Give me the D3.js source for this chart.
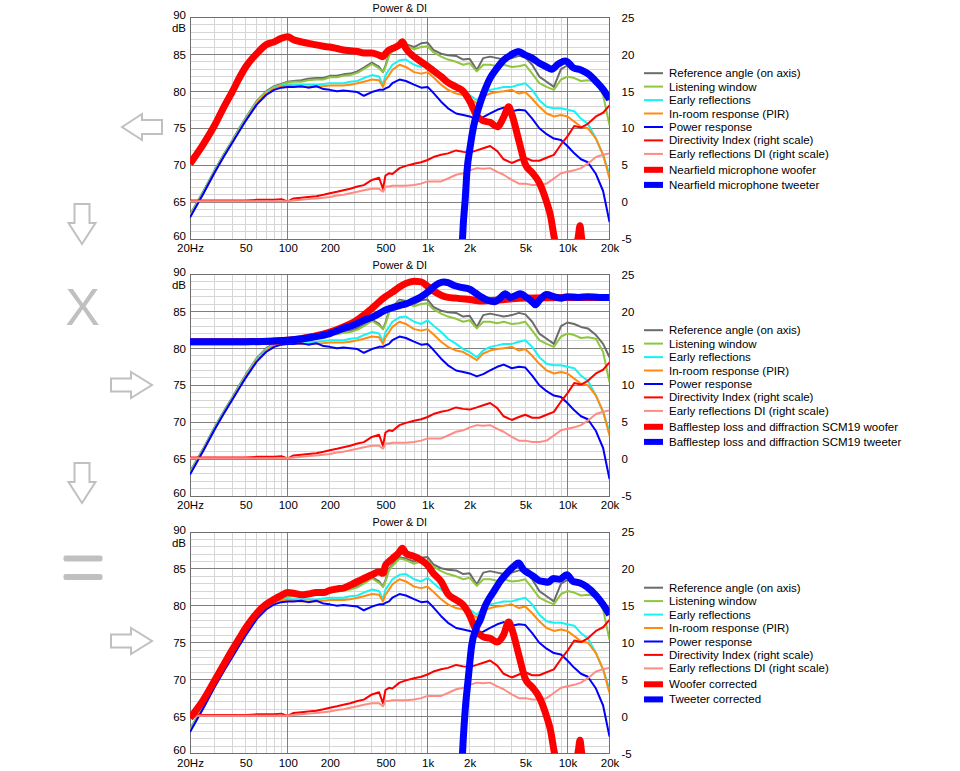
<!DOCTYPE html>
<html><head><meta charset="utf-8">
<script src="https://cdn.jsdelivr.net/npm/d3@7"></script>
<style>
body{margin:0;background:#fff}
svg{display:block}
text{font-family:"Liberation Sans",Arial,sans-serif;fill:#000}
</style>
</head><body>
<svg id="c" width="960" height="771"></svg>
<script>
// ---------- shared frequency grid & spinorama curves ----------
const freqs = [20,25,30,35,40,45,50,60,70,80,90,100,110,125,140,160,180,200,225,250,280,315,350,400,450,480,500,530,560,630,700,800,900,1000,1100,1250,1400,1600,1800,2000,2250,2500,2800,3150,3500,4000,4500,5000,5600,6300,7100,8000,9000,10000,11200,12500,14000,16000,18000,20000];
const refAxis = [63.3,66.5,69.3,71.5,73.3,75.0,76.4,78.7,80.0,80.7,81.0,81.3,81.4,81.5,81.7,81.8,81.8,82.1,82.1,82.3,82.4,82.7,83.2,83.9,83.3,82.6,83.5,85.0,85.6,86.6,86.4,86.0,86.5,86.6,85.6,85.1,84.9,84.8,84.3,84.4,82.9,84.5,84.7,84.5,84.3,84.5,84.8,84.6,83.6,82.0,81.3,80.6,83.0,83.5,83.3,82.9,82.7,81.8,80.6,78.8];
const listeningWindow = [63.2,66.4,69.2,71.4,73.2,74.9,76.3,78.6,79.9,80.6,80.9,81.2,81.3,81.3,81.5,81.6,81.6,81.9,81.9,82.1,82.2,82.5,83.0,83.7,83.1,82.6,83.3,84.8,85.4,86.4,86.2,85.7,86.0,86.1,85.3,84.7,84.3,84.0,83.6,83.8,82.7,83.6,83.6,83.4,83.6,83.3,83.4,83.6,82.4,81.1,80.6,80.2,81.6,82.0,81.8,81.4,81.5,81.3,79.5,75.4];
const earlyReflections = [63.1,66.3,69.1,71.3,73.1,74.8,76.2,78.5,79.8,80.5,80.8,80.9,80.9,80.9,80.9,80.85,81.0,81.1,81.1,81.1,81.3,81.4,81.8,82.2,82.0,80.9,82.2,82.9,83.6,84.2,84.3,83.6,83.3,83.8,83.1,82.2,81.3,80.6,79.9,79.5,78.8,79.7,80.2,80.4,80.6,80.6,80.9,81.1,80.2,78.8,77.9,77.7,77.7,77.5,77.3,76.3,75.6,73.6,71.4,68.7];
const inRoom = [63.0,66.2,69.0,71.2,73.0,74.7,76.1,78.4,79.7,80.4,80.7,80.8,80.7,80.6,80.6,80.6,80.7,80.8,80.8,80.8,80.9,81.1,81.3,81.6,81.5,80.6,81.5,82.2,82.9,83.6,83.3,82.6,82.4,82.6,81.9,80.9,80.2,79.7,79.5,79.0,78.4,79.3,79.7,79.9,80.0,80.2,79.7,79.9,79.0,77.9,77.0,76.6,76.8,76.6,75.9,75.2,75.0,73.6,71.4,68.2];
const powerResponse = [62.9,66.2,69.0,71.2,73.0,74.6,76.0,78.2,79.5,80.2,80.5,80.6,80.6,80.7,80.5,80.7,80.3,80.2,80.0,80.1,80.0,79.9,79.4,79.9,80.2,80.2,80.4,80.6,81.1,81.6,81.4,80.9,80.5,80.6,79.8,78.6,77.7,77.0,76.8,76.6,76.2,76.5,77.0,77.5,77.8,77.3,77.5,77.4,76.3,75.0,74.2,73.6,73.4,72.6,71.6,70.8,70.4,68.8,66.5,62.3];
const directivityIndex = [0.2,0.2,0.2,0.2,0.2,0.2,0.2,0.3,0.3,0.3,0.4,0.1,0.5,0.6,0.7,0.8,1.0,1.2,1.4,1.6,1.8,2.1,2.3,3.0,3.3,1.8,3.6,3.9,3.8,4.6,4.9,5.2,5.4,5.7,6.1,6.4,6.6,7.0,6.8,6.7,7.0,7.3,7.6,6.9,5.8,5.3,5.7,6.0,5.6,5.6,6.0,6.4,7.8,8.9,10.3,10.1,10.6,11.6,12.1,13.1];
const earlyReflDI = [0.1,0.1,0.1,0.1,0.1,0.1,0.1,0.1,0.1,0.1,0.1,0.1,0.2,0.3,0.4,0.5,0.6,0.7,0.9,1.0,1.2,1.4,1.6,1.8,1.8,1.4,2.1,2.1,2.2,2.2,2.2,2.3,2.5,2.8,2.8,2.8,3.2,3.7,3.9,4.3,4.6,4.5,4.6,4.1,3.7,3.0,2.5,2.5,2.3,2.3,2.5,3.2,3.9,4.1,4.3,4.6,5.2,6.1,6.4,6.6];

// ---------- panel 1: nearfield measurements ----------
const nfWooferF = [20,25,30,35,40,45,50,60,70,80,90,100,110,125,140,160,180,200,225,250,280,315,350,400,450,480,500,530,560,630,660,700,800,900,1000,1100,1250,1400,1600,1800,2000,2250,2500,2800,3150,3500,3800,4000,4500,5000,5600,6300,7100,7600,8000,8400];
const nfWooferDb = [70.2,72.9,75.4,77.9,79.9,81.8,83.3,85.1,86.3,86.7,87.2,87.4,87.0,86.7,86.5,86.3,86.1,86.0,85.8,85.6,85.5,85.4,85.2,85.2,84.9,84.7,85.1,85.6,85.8,86.3,86.7,85.8,84.7,84.0,83.4,82.8,82.0,81.2,80.6,80.0,78.7,76.7,76.0,75.8,75.2,76.5,77.9,76.9,73.3,70.1,69.0,67.6,65.0,63.0,60.5,58.5];
const wooferSpikeF = [11500,12000,12300,12600,13000];
const wooferSpikeDb = [58.5,60.5,61.8,60.3,58.5];
const nfTweeterF = [1760,1800,1860,1910,2017,2131,2313,2511,2803,3127,3489,4000,4465,5010,5586,6307,7109,7715,8611,9612,10000,11000,12500,14000,16100,18100,20000];
const nfTweeterDb = [58.5,62,65.5,69,72.5,75.2,77.7,79.7,81.8,83.1,84.2,85.0,85.4,84.9,84.5,83.8,83.3,83.0,83.7,84.1,84.0,83.2,82.9,82.4,81.3,80.2,78.9];

// ---------- panel 2: baffle step ----------
const bsWooferF = [20,50,100,125,150,200,250,300,350,400,450,500,560,630,700,800,900,1000,1100,1250,1400,1600,2000,2500,3000,4000,5000,10000,20000];
const bsWooferDb = [80.9,80.9,81.1,81.3,81.6,82.2,82.9,83.6,84.5,85.4,86.3,87.0,87.6,88.3,88.8,89.1,89.0,88.4,87.8,87.2,86.9,86.8,86.6,86.4,86.5,86.7,86.8,86.9,86.9];
const bsTweeterF = [20,50,100,150,200,250,300,350,400,450,500,560,630,700,800,900,1000,1100,1200,1300,1400,1550,1700,2000,2200,2450,2700,3000,3300,3600,3900,4300,4600,5100,5600,5900,6300,7100,8000,9000,10000,12000,14000,17000,20000];
const bsTweeterDb = [80.9,80.9,81.1,81.5,82.0,82.7,83.2,83.8,84.2,84.7,85.2,85.5,85.8,86.0,86.5,87.0,87.6,88.3,88.8,89.0,88.9,88.5,88.3,88.0,87.5,86.9,86.5,86.3,86.8,87.4,86.9,87.2,87.4,86.9,86.3,85.9,86.5,87.3,87.0,86.8,87.0,86.9,87.0,86.9,86.9];

// ---------- panel 3: corrected ----------
const corrWooferF = nfWooferF;
const corrWooferDb = [64.8,67.3,69.9,72.1,74.0,75.6,77.0,79.0,80.2,80.9,81.4,81.8,81.7,81.5,81.6,81.8,81.8,82.1,82.3,82.4,82.8,83.3,83.7,84.2,84.6,84.4,85.5,86.0,86.4,87.3,87.8,87.1,86.7,86.2,85.5,84.4,83.3,81.6,80.8,80.1,78.7,76.5,75.8,75.6,75.1,76.1,77.8,76.9,73.3,70.1,69.0,67.6,65.0,63.0,60.5,58.5];
const corrTweeterF = [1760,1800,1860,1950,2070,2230,2380,2570,2800,2940,3300,3690,4110,4470,4850,5300,5720,6300,6730,7300,7930,8800,9900,11000,12300,13700,16200,18100,20000];
const corrTweeterDb = [58.5,62,66,70,74.7,77.0,78.1,79.9,81.2,81.8,83.3,84.4,85.3,85.8,84.9,84.4,84.0,83.4,83.3,83.2,83.7,83.6,84.2,83.3,83.1,82.6,81.3,80.1,78.8];

// ---------- axes & legend text ----------
const xTickValues = [20,50,100,200,500,1000,2000,5000,10000,20000];
const xTickLabels = ["20Hz","50","100","200","500","1k","2k","5k","10k","20k"];
const leftTicks = [60,65,70,75,80,85,90];
const rightTicks = [-5,0,5,10,15,20,25];
const baseLegend = ["Reference angle (on axis)","Listening window","Early reflections","In-room response (PIR)","Power response","Directivity Index (right scale)","Early reflections DI (right scale)"];
const panelTitles = ["Power & DI","Power & DI","Power & DI"];
const thickLegends = [
  ["Nearfield microphone woofer","Nearfield microphone tweeter"],
  ["Bafflestep loss and diffraction SCM19 woofer","Bafflestep loss and diffraction SCM19 tweeter"],
  ["Woofer corrected","Tweeter corrected"]
];

// ---------- styling ----------
const baseColors = ["#6b6b6b","#8ec63f","#19f2f2","#ff8c10","#0000ff","#ff0000","#ff8c84"];
const thickColors = ["#ff0000","#0000ff"];
const GRAY = "#c0c0c0";

const svg = d3.select("#c");
const X0 = 190, X1 = 609.5, H = 221.5;
const x = d3.scaleLog().domain([20,20000]).range([X0,X1]);
const panelTops = [17.5, 274.5, 532];

const baseSeries = [
  {v:refAxis, right:false},{v:listeningWindow, right:false},{v:earlyReflections, right:false},
  {v:inRoom, right:false},{v:powerResponse, right:false},{v:directivityIndex, right:true},{v:earlyReflDI, right:true}
];
const thickSets = [
  [{f:nfWooferF,v:nfWooferDb},{f:wooferSpikeF,v:wooferSpikeDb,c:0},{f:nfTweeterF,v:nfTweeterDb}],
  [{f:bsWooferF,v:bsWooferDb},{f:bsTweeterF,v:bsTweeterDb}],
  [{f:corrWooferF,v:corrWooferDb},{f:wooferSpikeF,v:wooferSpikeDb,c:0},{f:corrTweeterF,v:corrTweeterDb}]
];

const minorF = [];
[10,100,1000].forEach(d=>{for(let k=1;k<=9;k++){const f=k*d; if(f>20&&f<20000) minorF.push(f);}});
const majorF = [100,1000,10000];

panelTops.forEach((top, pi) => {
  const bottom = top + H;
  const yL = d3.scaleLinear().domain([60,90]).range([bottom, top]);
  const yR = d3.scaleLinear().domain([-5,25]).range([bottom, top]);
  const g = svg.append("g");

  // grid
  const grid = g.append("g").attr("shape-rendering","crispEdges");
  grid.selectAll(".hm").data(d3.range(61,90).filter(v=>v%5)).join("line")
    .attr("x1",X0).attr("x2",X1).attr("y1",d=>yL(d)).attr("y2",d=>yL(d))
    .attr("stroke","#d6d6d6").attr("stroke-width",1);
  grid.selectAll(".vm").data(minorF.filter(f=>!majorF.includes(f))).join("line")
    .attr("y1",top).attr("y2",bottom).attr("x1",d=>x(d)).attr("x2",d=>x(d))
    .attr("stroke","#d6d6d6").attr("stroke-width",1);
  grid.selectAll(".hM").data([65,70,75,80,85]).join("line")
    .attr("x1",X0).attr("x2",X1).attr("y1",d=>yL(d)).attr("y2",d=>yL(d))
    .attr("stroke","#7f7f7f").attr("stroke-width",1);
  grid.selectAll(".vM").data(majorF).join("line")
    .attr("y1",top).attr("y2",bottom).attr("x1",d=>x(d)).attr("x2",d=>x(d))
    .attr("stroke","#7f7f7f").attr("stroke-width",1);
  grid.append("rect").attr("x",X0).attr("y",top).attr("width",X1-X0).attr("height",H)
    .attr("fill","none").attr("stroke","#6f6f6f").attr("stroke-width",1);

  // clip
  const cid = "clip"+pi;
  svg.append("clipPath").attr("id",cid).append("rect")
    .attr("x",X0).attr("y",top).attr("width",X1-X0).attr("height",H);
  const plot = g.append("g").attr("clip-path",`url(#${cid})`);

  baseSeries.forEach((s, si) => {
    const ys = s.right ? yR : yL;
    const line = d3.line().x((d,i)=>x(freqs[i])).y(d=>ys(d)).curve(d3.curveLinear);
    plot.append("path").attr("d", line(s.v)).attr("fill","none")
      .attr("stroke", baseColors[si]).attr("stroke-width",2).attr("stroke-linejoin","round");
  });

  thickSets[pi].forEach((s, k) => {
    const col = (s.c !== undefined) ? thickColors[s.c] : thickColors[k===0?0:1];
    const line = d3.line().x((d,i)=>x(s.f[i])).y(d=>yL(d)).curve(d3.curveMonotoneX);
    plot.append("path").attr("d", line(s.v)).attr("fill","none")
      .attr("stroke", col).attr("stroke-width",7).attr("stroke-linejoin","round");
  });

  // axes
  const axL = d3.axisLeft(yL).tickValues(leftTicks).tickSize(0).tickPadding(4).tickFormat(d3.format("d"));
  const gl = g.append("g").attr("transform",`translate(${X0},0)`).call(axL);
  const axR = d3.axisRight(yR).tickValues(rightTicks).tickSize(0).tickPadding(12).tickFormat(d=>d<0?"-"+Math.abs(d):String(d));
  const gr = g.append("g").attr("transform",`translate(${X1},0)`).call(axR);
  const axB = d3.axisBottom(x).tickValues(xTickValues).tickSize(0).tickPadding(5)
    .tickFormat((d,i)=>xTickLabels[i]);
  const gb = g.append("g").attr("transform",`translate(0,${bottom})`).call(axB);
  [gl,gr,gb].forEach(a=>{
    a.select(".domain").remove();
    a.selectAll("text").attr("font-size",11.5).attr("font-family","Liberation Sans, Arial, sans-serif").attr("fill","#000");
  });
  // nudge the end labels so they clear "20Hz" and "dB"
  gl.selectAll(".tick").filter(d=>d===60).select("text").attr("y",-3.5);
  gl.selectAll(".tick").filter(d=>d===90).select("text").attr("y",-2.5);
  g.append("text").attr("x",X0-4).attr("y",top+14.5).attr("text-anchor","end")
    .attr("font-size",11.5).text("dB");

  // title
  g.append("text").attr("x",(X0+X1)/2).attr("y",top-6).attr("text-anchor","middle")
    .attr("font-size",10.8).text(panelTitles[pi]);

  // legend
  const lg = g.append("g");
  const rowsY = [55.7,69.1,82.6,96.0,109.5,122.9,136.4,152.3,167.4].map(o=>top+o);
  baseLegend.forEach((t,i)=>{
    lg.append("line").attr("x1",644).attr("x2",663).attr("y1",rowsY[i]).attr("y2",rowsY[i])
      .attr("stroke",baseColors[i]).attr("stroke-width",2);
    lg.append("text").attr("x",669).attr("y",rowsY[i]).attr("dy","0.35em").attr("font-size",11.5).text(t);
  });
  thickLegends[pi].forEach((t,k)=>{
    const yy = rowsY[7+k];
    lg.append("rect").attr("x",644).attr("y",yy-3).attr("width",19).attr("height",6).attr("fill",thickColors[k]);
    lg.append("text").attr("x",669).attr("y",yy).attr("dy","0.35em").attr("font-size",11.5).text(t);
  });
});

// ---------- left-hand decorations ----------
const deco = svg.append("g").attr("fill","none").attr("stroke",GRAY).attr("stroke-width",2).attr("stroke-linejoin","miter");
function arrowLeft(x0,cy){ // tip at x0
  const p = d3.path();
  p.moveTo(x0,cy); p.lineTo(x0+20,cy-13); p.lineTo(x0+20,cy-7); p.lineTo(x0+40,cy-7);
  p.lineTo(x0+40,cy+7); p.lineTo(x0+20,cy+7); p.lineTo(x0+20,cy+13); p.closePath();
  deco.append("path").attr("d",p.toString());
}
function arrowRight(x0,cy){ // tail at x0
  const p = d3.path();
  p.moveTo(x0,cy-6.5); p.lineTo(x0+20,cy-6.5); p.lineTo(x0+20,cy-13); p.lineTo(x0+41,cy);
  p.lineTo(x0+20,cy+13); p.lineTo(x0+20,cy+6.5); p.lineTo(x0,cy+6.5); p.closePath();
  deco.append("path").attr("d",p.toString());
}
function arrowDown(cx,y0){
  const p = d3.path();
  p.moveTo(cx-7.5,y0); p.lineTo(cx+7.5,y0); p.lineTo(cx+7.5,y0+19); p.lineTo(cx+13.5,y0+19);
  p.lineTo(cx,y0+40); p.lineTo(cx-13.5,y0+19); p.lineTo(cx-7.5,y0+19); p.closePath();
  deco.append("path").attr("d",p.toString());
}
arrowLeft(122,127);
arrowDown(82,204);
svg.append("text").attr("x",82.5).attr("y",325).attr("text-anchor","middle")
  .attr("font-size",52).attr("font-family","Liberation Sans, Arial, sans-serif").style("fill",GRAY).text("X");
arrowRight(111,385);
arrowDown(82,463);
svg.append("rect").attr("x",63.5).attr("y",555.5).attr("width",39).attr("height",6).attr("rx",2).attr("fill",GRAY);
svg.append("rect").attr("x",63.5).attr("y",574).attr("width",39).attr("height",6).attr("rx",2).attr("fill",GRAY);
arrowRight(111,641);
</script>
</body></html>
